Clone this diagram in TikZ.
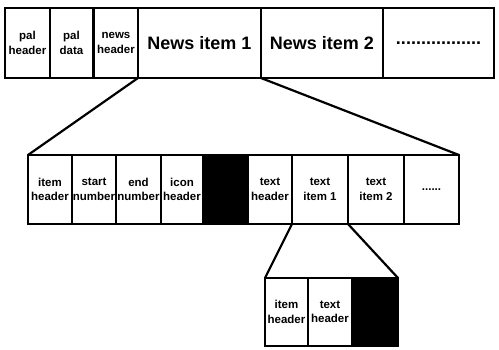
\documentclass[tikz,border=0pt]{standalone}
\usepackage{fontspec}
\setmainfont{Liberation Sans}
\begin{document}
\begin{tikzpicture}[x=1pt,y=-1pt,
  cell/.style={draw=black,line width=1.8pt,anchor=north west,outer sep=0pt,inner sep=0pt,
    align=center,font=\bfseries\fontsize{11.5}{14.5}\selectfont},
  bigcell/.style={cell,font=\bfseries\fontsize{18}{20}\selectfont},
  blk/.style={cell,fill=black},
  link/.style={draw=black,line width=2.2pt}]
\useasboundingbox (0,0) rectangle (499,349);
% top row
\node[cell,minimum width=45pt,minimum height=70pt] (ph) at (5,8) {pal\\header};
\node[cell,minimum width=43pt,minimum height=70pt] (pd) at (50,8) {pal\\data};
\node[cell,minimum width=44pt,minimum height=70pt] (nh) at (94,8) {news\\header};
\node[bigcell,minimum width=123pt,minimum height=70pt] (n1) at (138,8) {News item 1};
\node[bigcell,minimum width=122pt,minimum height=70pt] (n2) at (261,8) {News item 2};
\node[bigcell,minimum width=111pt,minimum height=70pt] (nd) at (383,8) {.................};
% middle row
\node[cell,minimum width=44pt,minimum height=69pt] (ih) at (28,155) {item\\header};
\node[cell,minimum width=44pt,minimum height=69pt] (sn) at (72,155) {start\\number};
\node[cell,minimum width=45pt,minimum height=69pt] (en) at (116,155) {end\\number};
\node[cell,minimum width=42pt,minimum height=69pt] (ic) at (161,155) {icon\\header};
\node[blk,minimum width=45pt,minimum height=69pt] (bk) at (203,155) {};
\node[cell,minimum width=44pt,minimum height=69pt] (th) at (248,155) {text\\header};
\node[cell,minimum width=56pt,minimum height=69pt] (t1) at (292,155) {text\\item 1};
\node[cell,minimum width=56pt,minimum height=69pt] (t2) at (348,155) {text\\item 2};
\node[cell,minimum width=55pt,minimum height=69pt] (md) at (404,155) {......};
% bottom row
\node[cell,minimum width=43pt,minimum height=68pt] (bih) at (265,278) {item\\header};
\node[cell,minimum width=44pt,minimum height=68pt] (bth) at (308,278) {text\\header};
\node[blk,minimum width=46pt,minimum height=68pt] (bbk) at (352,278) {};
% connectors
\draw[link] (n1.south west) -- (ih.north west);
\draw[link] (n1.south east) -- (md.north east);
\draw[link] (t1.south west) -- (bih.north west);
\draw[link] (t1.south east) -- (bbk.north east);
\end{tikzpicture}
\end{document}
